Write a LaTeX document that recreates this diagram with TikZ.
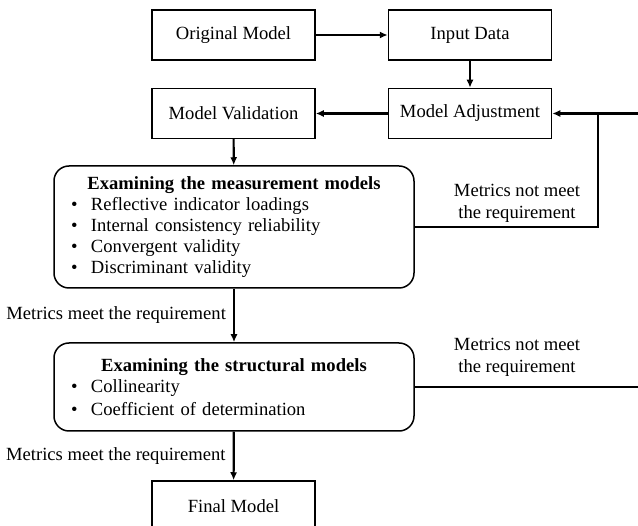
\documentclass[tikz,border=0pt]{standalone}
\usepackage{fontspec}
\setmainfont{Liberation Serif}
\usetikzlibrary{arrows.meta}

\begin{document}
\begin{tikzpicture}[x=1pt,y=1pt,yscale=-1,xscale=1,
  font=\fontsize{18.6}{21}\selectfont,
  stepbox/.style={draw,line width=1.5pt,minimum width=163pt,minimum height=50pt,inner sep=0pt},
  testbox/.style={draw,line width=1.5pt,rounded corners=15pt,minimum width=360pt,text width=326pt,inner xsep=17pt,align=left},
  flow/.style={line width=2.2pt,-{Latex[length=8pt,width=7pt]}},
  back/.style={line width=2.2pt}]
\useasboundingbox (0,0) rectangle (638,526); %set diagram to 638 x 526

%Shape: Rectangle
\node [stepbox] (orig) at (233.5,35) {Original Model};
%Shape: Rectangle
\node [stepbox] (input) at (470,35) {Input Data};
%Shape: Rectangle
\node [stepbox] (valid) at (233.5,113.5) {Model Validation};
%Shape: Rectangle
\node [stepbox] (adjust) at (470,113.5) {Model Adjustment};
%Rounded Rect
\node [testbox,minimum height=122pt] (measure) at (234,227) {%
\makebox[\linewidth][c]{\textbf{Examining the measurement models}}\\
\makebox[20pt][l]{\textbullet}Reflective indicator loadings\\
\makebox[20pt][l]{\textbullet}Internal consistency reliability\\
\makebox[20pt][l]{\textbullet}Convergent validity\\
\makebox[20pt][l]{\textbullet}Discriminant validity};
%Rounded Rect
\node [testbox,minimum height=88pt] (struct) at (234,387) {%
\makebox[\linewidth][c]{\textbf{Examining the structural models}}\\
\makebox[20pt][l]{\textbullet}Collinearity\\[2pt]
\makebox[20pt][l]{\textbullet}Coefficient of determination};
%Shape: Rectangle
\node [stepbox] (final) at (233.5,506) {Final Model};

%Straight Lines
\draw [flow] (orig) -- (input);
\draw [flow] (input) -- (adjust);
\draw [flow] (adjust) -- (valid);
\draw [flow] (valid) -- (measure);
\draw [flow] (measure) -- (struct) node [midway,left,inner xsep=7pt] (okA) {Metrics meet the requirement};
\draw [flow] (struct) -- (final) node [midway,left,inner xsep=7pt] (okB) {Metrics meet the requirement};

%Feedback Lines
\coordinate (edgeA) at (638,113.5);
\coordinate (joint) at (598,113.5);
\coordinate (edgeB) at (638,387);
\draw [flow] (edgeA) -- (adjust);
\draw [back] (measure.east) -| (joint);
\draw [back] (struct.east) -- (edgeB);

% Text Node
\node [align=center,font=\fontsize{18.6}{22}\selectfont] (failA) at (517,203) {Metrics not meet\\the requirement};
% Text Node
\node [align=center,font=\fontsize{18.6}{22}\selectfont] (failB) at (517,357) {Metrics not meet\\the requirement};

\end{tikzpicture}
\end{document}
